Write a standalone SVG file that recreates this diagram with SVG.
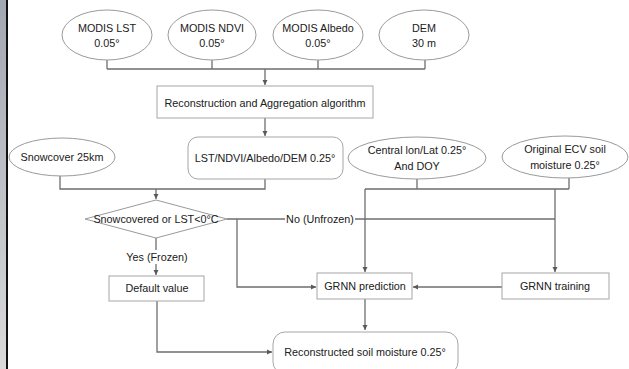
<svg xmlns="http://www.w3.org/2000/svg" width="629" height="369" viewBox="0 0 629 369">
<defs>
<linearGradient id="bar" x1="0" y1="0" x2="0" y2="1">
<stop offset="0" stop-color="#a3a7b1"/>
<stop offset="1" stop-color="#dadada"/>
</linearGradient>
<marker id="arr" markerWidth="6" markerHeight="6" refX="5" refY="3" orient="auto" markerUnits="userSpaceOnUse">
<path d="M0,0.5 L5,3 L0,5.5 z" fill="#595959"/>
</marker>
<style>
.e{fill:#fff;stroke:#9a9a9a;stroke-width:1}
.b{fill:#fff;stroke:#a6a6a6;stroke-width:1}
.c{fill:none;stroke:#6e6e6e;stroke-width:1.3}
.t{font-family:"Liberation Sans",Arial,sans-serif;font-size:10.8px;fill:#202020;text-anchor:middle;dominant-baseline:central}
</style>
</defs>
<rect width="629" height="369" fill="#fff"/>
<rect x="0" y="0" width="6" height="369" fill="url(#bar)"/>
<rect x="6" y="0" width="2" height="369" fill="#111"/>

<g id="connectors">
<path class="c" d="M107,60 V69 M212,60 V69 M318,60 V69 M425,60 V69 M107,69 H425"/>
<path class="c" d="M265,69 V85" marker-end="url(#arr)"/>
<path class="c" d="M265,118 V136" marker-end="url(#arr)"/>
<path class="c" d="M60,176 V189 H265 V179"/>
<path class="c" d="M156,189 V199" marker-end="url(#arr)"/>
<path class="c" d="M417,179 V189 M569,178 V189 M365,189 H569"/>
<path class="c" d="M365,189 V272" marker-end="url(#arr)"/>
<path class="c" d="M555,189 V272" marker-end="url(#arr)"/>
<path class="c" d="M227,219 H555"/>
<path class="c" d="M237,219 V287 H316" marker-end="url(#arr)"/>
<path class="c" d="M502,287 H413" marker-end="url(#arr)"/>
<path class="c" d="M365,299 V330" marker-end="url(#arr)"/>
<path class="c" d="M156,238 V275" marker-end="url(#arr)"/>
<path class="c" d="M157,301 V352 H272" marker-end="url(#arr)"/>
<rect x="285" y="212" width="70" height="14" fill="#fff"/>
<text class="t" x="320" y="219">No (Unfrozen)</text>
<rect x="124" y="250" width="66" height="14" fill="#fff"/>
<text class="t" x="157" y="257">Yes (Frozen)</text>
</g>

<g id="modis-lst"><ellipse class="e" cx="107" cy="35" rx="45" ry="25"/><text class="t" x="107" y="28">MODIS LST</text><text class="t" x="107" y="43">0.05°</text></g>
<g id="modis-ndvi"><ellipse class="e" cx="212" cy="35" rx="44" ry="25"/><text class="t" x="212" y="28">MODIS NDVI</text><text class="t" x="212" y="43">0.05°</text></g>
<g id="modis-albedo"><ellipse class="e" cx="318" cy="35" rx="45" ry="25"/><text class="t" x="318" y="28">MODIS Albedo</text><text class="t" x="318" y="43">0.05°</text></g>
<g id="dem"><ellipse class="e" cx="424" cy="35" rx="45" ry="25"/><text class="t" x="424" y="28">DEM</text><text class="t" x="424" y="43">30 m</text></g>

<g id="reconstruction"><rect class="b" x="157" y="86" width="216" height="32"/><text class="t" x="265" y="103">Reconstruction and Aggregation algorithm</text></g>
<g id="lst-025"><rect class="b" x="188" y="137" width="155" height="42" rx="10"/><text class="t" x="265" y="158">LST/NDVI/Albedo/DEM 0.25°</text></g>
<g id="snowcover"><ellipse class="e" cx="62" cy="157" rx="53" ry="19"/><text class="t" x="62" y="157">Snowcover 25km</text></g>
<g id="central"><ellipse class="e" cx="417" cy="158" rx="69" ry="21"/><text class="t" x="417" y="150">Central lon/Lat 0.25°</text><text class="t" x="417" y="166">And DOY</text></g>
<g id="ecv"><ellipse class="e" cx="565" cy="157" rx="63" ry="21"/><text class="t" x="565" y="149">Original ECV soil</text><text class="t" x="565" y="165">moisture 0.25°</text></g>

<g id="decision"><path class="e" d="M85,219 L156,200 L227,219 L156,238 Z"/><text class="t" x="156" y="219">Snowcovered or LST&lt;0°C</text></g>
<g id="default"><rect class="b" x="109" y="276" width="95" height="25"/><text class="t" x="157" y="288">Default value</text></g>
<g id="grnn-pred"><rect class="b" x="317" y="273" width="95" height="26"/><text class="t" x="365" y="286">GRNN prediction</text></g>
<g id="grnn-train"><rect class="b" x="502" y="273" width="107" height="26"/><text class="t" x="555" y="286">GRNN training</text></g>
<g id="result"><rect class="b" x="273" y="332" width="185" height="42" rx="12"/><text class="t" x="365" y="352">Reconstructed soil moisture 0.25°</text></g>
</svg>
